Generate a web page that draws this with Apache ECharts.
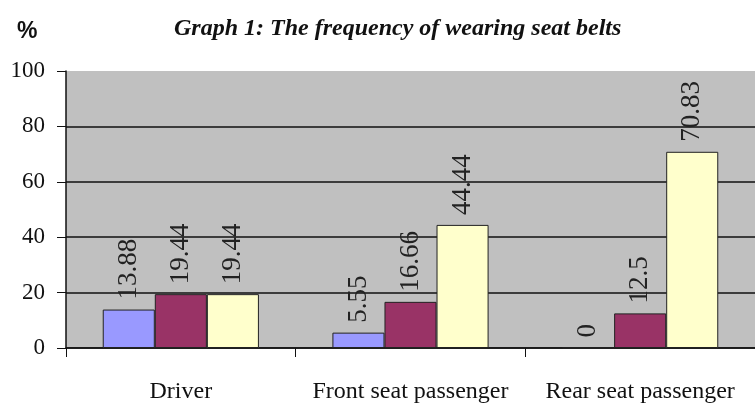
<!DOCTYPE html>
<html><head><meta charset="utf-8">
<script src="https://cdn.jsdelivr.net/npm/echarts@6/dist/echarts.min.js"></script>
<style>html,body{margin:0;padding:0;background:#fff}#c{width:755px;height:405px}</style>
</head><body><div id="c"></div>
<script>
const categories = ['Driver', 'Front seat passenger', 'Rear seat passenger'];
const seriesA = [13.88, 5.55, 0];
const seriesB = [19.44, 16.66, 12.5];
const seriesC = [19.44, 44.44, 70.83];
const yTicks = [0, 20, 40, 60, 80, 100];
const colors = ['#9999FF', '#993366', '#FFFFCC'];
const serif = 'Liberation Serif';

const chart = echarts.init(document.getElementById('c'));
function mk(name, data, color) {
  return {
    name: name, type: 'bar', data: data, barGap: '0%', barCategoryGap: '32%',
    itemStyle: {color: color, borderColor: '#222', borderWidth: 1},
    label: {show: true, position: 'top', rotate: 90, align: 'left', verticalAlign: 'middle',
      distance: 10, fontFamily: serif, fontSize: 27, color: '#222'}
  };
}
chart.setOption({
  animation: false,
  backgroundColor: '#fff',
  title: [{
    text: 'Graph 1: The frequency of wearing seat belts',
    left: 169, top: 12,
    textStyle: {fontFamily: serif, fontStyle: 'italic', fontWeight: 'bold', fontSize: 24, color: '#111'}
  }, {
    text: '%', left: 12, top: 15,
    textStyle: {fontFamily: 'Liberation Sans', fontWeight: 'bold', fontSize: 23, color: '#111'}
  }],
  grid: {left: 66, top: 71, bottom: 57, width: 693, show: true, backgroundColor: '#C0C0C0', borderWidth: 0},
  xAxis: {
    type: 'category', data: categories,
    axisLine: {lineStyle: {color: '#111', width: 1.5}},
    axisTick: {show: true, length: 9, interval: 0, alignWithLabel: false, lineStyle: {color: '#111'}},
    axisLabel: {margin: 32, interval: 0, hideOverlap: false, fontFamily: serif, fontSize: 24, color: '#111'}
  },
  yAxis: {
    type: 'value', min: yTicks[0], max: yTicks[yTicks.length - 1], interval: 20,
    axisLine: {show: true, lineStyle: {color: '#111', width: 1.5}},
    axisTick: {show: true, length: 9, lineStyle: {color: '#111'}},
    axisLabel: {margin: 21, fontFamily: serif, fontSize: 23, color: '#111'},
    splitLine: {show: true, lineStyle: {color: ['#111', '#111', '#111', '#111', '#111', 'rgba(0,0,0,0)'], width: 1.5}}
  },
  series: [mk('A', seriesA, colors[0]), mk('B', seriesB, colors[1]), mk('C', seriesC, colors[2])]
});
</script></body></html>
